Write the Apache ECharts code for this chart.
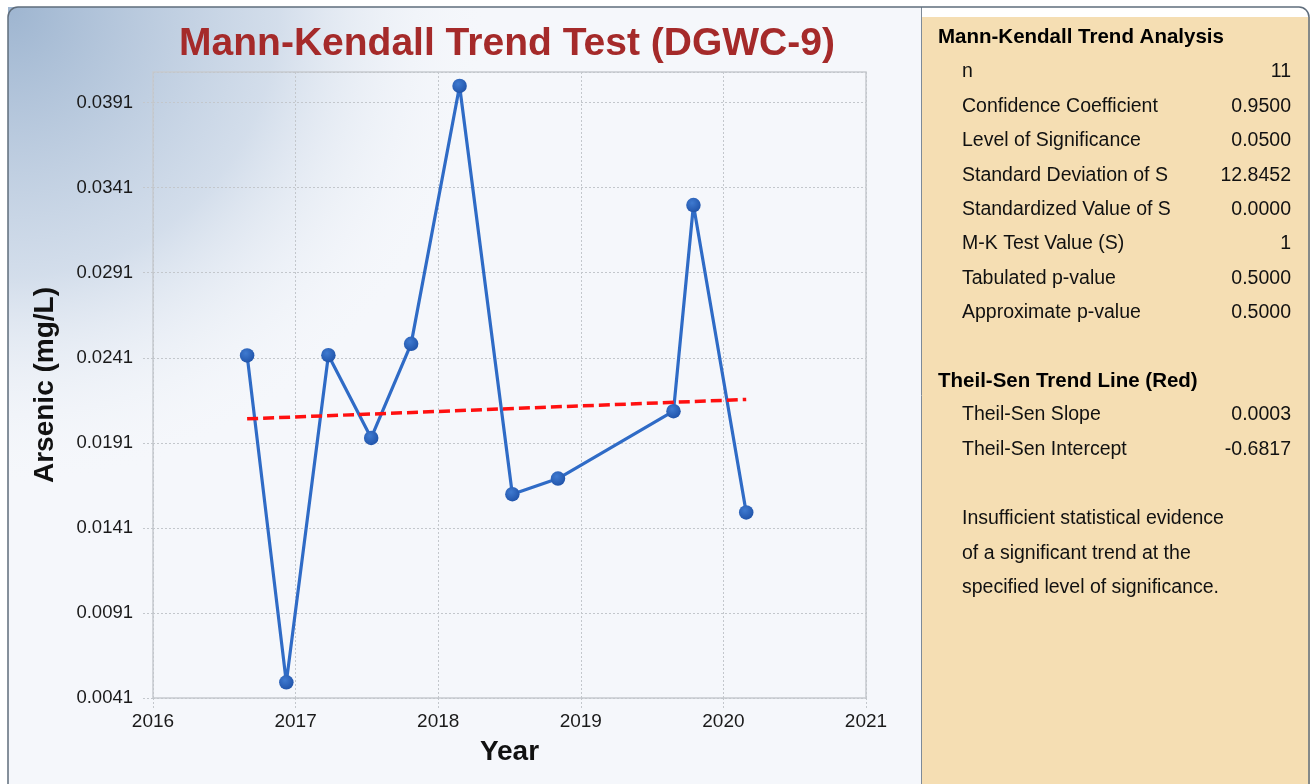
<!DOCTYPE html>
<html>
<head>
<meta charset="utf-8">
<script src="https://cdn.jsdelivr.net/npm/echarts@6/dist/echarts.min.js"></script>
<style>
  html, body { margin: 0; padding: 0; background: #ffffff; }
  #chart { width: 1312px; height: 784px; }
</style>
</head>
<body>
<div id="chart"></div>
<script>
// Sampling dates (decimal years) and arsenic concentrations (mg/L) at DGWC-9
const sampleYears = [2016.66, 2016.935, 2017.23, 2017.53, 2017.81, 2018.15, 2018.52, 2018.84, 2019.65, 2019.79, 2020.16];
const arsenic     = [0.02424, 0.00502, 0.02425, 0.01939, 0.02492, 0.04008, 0.01608, 0.01700, 0.02096, 0.03308, 0.01501];

// Theil-Sen trend line end points (year, mg/L)
const trendYears  = [2016.66, 2020.16];
const trendValues = [0.02051, 0.02165];

// Axis ranges
const yearTicks = [2016, 2017, 2018, 2019, 2020, 2021];
const concMin = 0.0041, concMax = 0.0409, concStep = 0.005;

// Statistics panel
const mkLabels = ['n', 'Confidence Coefficient', 'Level of Significance', 'Standard Deviation of S',
                  'Standardized Value of S', 'M-K Test Value (S)', 'Tabulated p-value', 'Approximate p-value'];
const mkValues = ['11', '0.9500', '0.0500', '12.8452', '0.0000', '1', '0.5000', '0.5000'];
const tsLabels = ['Theil-Sen Slope', 'Theil-Sen Intercept'];
const tsValues = ['0.0003', '-0.6817'];
const conclusion = ['Insufficient statistical evidence', 'of a significant trend at the', 'specified level of significance.'];

const FONT = '"Liberation Sans", Arial, sans-serif';

const chart = echarts.init(document.getElementById('chart'), null, { renderer: 'canvas' });

// Panel backgrounds, frame and statistics text
const graphics = [];
graphics.push({
  type: 'rect', z: -10, silent: true,
  shape: { x: 8, y: 7, width: 914, height: 800 },
  style: { fill: '#f5f7fb' }
});
graphics.push({
  type: 'rect', z: -9, silent: true,
  shape: { x: 8, y: 7, width: 600, height: 600 },
  style: {
    fill: {
      type: 'radial', x: 0, y: 0, r: 1,
      colorStops: [
        { offset: 0, color: 'rgba(158,181,208,1)' },
        { offset: 0.45, color: 'rgba(205,217,232,0.85)' },
        { offset: 0.8, color: 'rgba(245,247,251,0)' }
      ]
    }
  }
});
graphics.push({
  type: 'rect', z: -10, silent: true,
  shape: { x: 922, y: 17, width: 388, height: 780 },
  style: { fill: '#f5deb3' }
});
graphics.push({
  type: 'line', z: 20, silent: true,
  shape: { x1: 921.5, y1: 7, x2: 921.5, y2: 784 },
  style: { stroke: '#7d8a98', lineWidth: 1 }
});
graphics.push({
  type: 'rect', z: 20, silent: true,
  shape: { x: 8, y: 7, width: 1301, height: 800, r: 10 },
  style: { fill: null, stroke: '#5f6d7c', lineWidth: 1.5 }
});

// Chart title
graphics.push({
  type: 'text', z: 10, silent: true,
  style: {
    x: 507, y: 44, text: 'Mann-Kendall Trend Test (DGWC-9)',
    fill: '#a52a2a', font: 'bold 39px ' + FONT,
    textAlign: 'center', textVerticalAlign: 'middle'
  }
});

function heading(text, y) {
  graphics.push({
    type: 'text', z: 10, silent: true,
    style: { x: 938, y: y, text: text, fill: '#000000', font: 'bold 20.5px ' + FONT, textVerticalAlign: 'middle' }
  });
}
function row(label, value, y) {
  graphics.push({
    type: 'text', z: 10, silent: true,
    style: { x: 962, y: y, text: label, fill: '#111111', font: '19.5px ' + FONT, textVerticalAlign: 'middle' }
  });
  if (value !== null) {
    graphics.push({
      type: 'text', z: 10, silent: true,
      style: { x: 1291, y: y, text: value, fill: '#111111', font: '19.5px ' + FONT, textAlign: 'right', textVerticalAlign: 'middle' }
    });
  }
}

const rowStep = 34.4;
heading('Mann-Kendall Trend Analysis', 37);
mkLabels.forEach((l, i) => row(l, mkValues[i], 72 + i * rowStep));
heading('Theil-Sen Trend Line (Red)', 381);
tsLabels.forEach((l, i) => row(l, tsValues[i], 415 + i * rowStep));
conclusion.forEach((l, i) => row(l, null, 519 + i * rowStep));

const dotted = { color: '#c3c7cc', type: [2, 2], width: 1 };

chart.setOption({
  animation: false,
  backgroundColor: 'transparent',
  grid: {
    left: 153, right: 446, top: 72, bottom: 86,
    show: true, borderColor: '#c6cad0', borderWidth: 1.5, backgroundColor: 'transparent'
  },
  xAxis: {
    type: 'value',
    min: yearTicks[0], max: yearTicks[yearTicks.length - 1], interval: 1,
    name: 'Year', nameLocation: 'middle', nameGap: 40,
    nameTextStyle: { fontFamily: FONT, fontWeight: 'bold', fontSize: 28, color: '#111111' },
    axisLine: { show: false },
    axisTick: { show: true, length: 12, lineStyle: dotted },
    axisLabel: { margin: 14, fontFamily: FONT, fontSize: 19, color: '#1a1a1a', formatter: v => String(v) },
    splitLine: { show: true, lineStyle: dotted }
  },
  yAxis: {
    type: 'value',
    min: concMin, max: concMax, interval: concStep,
    name: 'Arsenic (mg/L)', nameLocation: 'middle', nameGap: 94, nameRotate: 90,
    nameTextStyle: { fontFamily: FONT, fontWeight: 'bold', fontSize: 28, color: '#111111' },
    axisLine: { show: false },
    axisTick: { show: true, length: 12, lineStyle: dotted },
    axisLabel: {
      margin: 20, fontFamily: FONT, fontSize: 18.5, color: '#1a1a1a',
      showMaxLabel: false,
      formatter: v => v.toFixed(4)
    },
    splitLine: { show: true, lineStyle: dotted }
  },
  graphic: graphics,
  series: [
    {
      name: 'Arsenic',
      type: 'line',
      data: sampleYears.map((x, i) => [x, arsenic[i]]),
      symbol: 'circle', symbolSize: 14.5,
      lineStyle: { color: '#2f6bc6', width: 3.2 },
      itemStyle: {
        color: {
          type: 'radial', x: 0.4, y: 0.35, r: 0.7,
          colorStops: [{ offset: 0, color: '#3f7ad0' }, { offset: 1, color: '#1f52a8' }]
        },
        borderWidth: 0
      },
      z: 3
    },
    {
      name: 'Theil-Sen',
      type: 'line',
      data: trendYears.map((x, i) => [x, trendValues[i]]),
      symbol: 'none',
      lineStyle: { color: '#ff1010', width: 3.5, type: [11, 5] },
      z: 4
    }
  ]
});
</script>
</body>
</html>
